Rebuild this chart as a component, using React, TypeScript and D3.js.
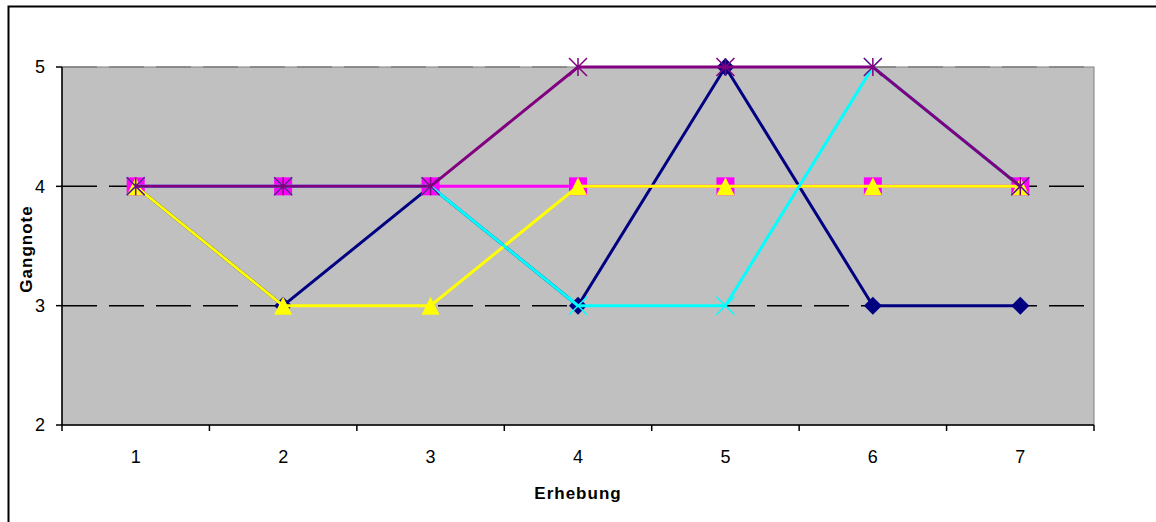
import React from "react";
import * as d3 from "d3";

const categories = ["1", "2", "3", "4", "5", "6", "7"];
const yTicks = [2, 3, 4, 5];
const navyValues = [4, 3, 4, 3, 5, 3, 3];
const magentaValues = [4, 4, 4, 4, 4, 4, 4];
const yellowValues = [4, 3, 3, 4, 4, 4, 4];
const cyanValues = [4, 4, 4, 3, 3, 5, 4];
const purpleValues = [4, 4, 4, 5, 5, 5, 4];

const seriesList = [
  { name: "s1", values: navyValues, color: "#000080", marker: "diamond" },
  { name: "s2", values: magentaValues, color: "#FF00FF", marker: "square" },
  { name: "s3", values: yellowValues, color: "#FFFF00", marker: "triangle" },
  { name: "s4", values: cyanValues, color: "#00FFFF", marker: "x" },
  { name: "s5", values: purpleValues, color: "#800080", marker: "star" },
];

const W = 1156;
const H = 522;
const plot = { left: 62, right: 1094, top: 67, bottom: 425 };

export default function App() {
  const x = d3.scaleBand<string>().domain(categories).range([plot.left, plot.right]).padding(0);
  const y = d3.scaleLinear().domain([2, 5]).range([plot.bottom, plot.top]);
  const cx = (i: number) => (x(categories[i]) as number) + x.bandwidth() / 2;
  const line = d3
    .line<number>()
    .x((_, i) => cx(i))
    .y((d) => y(d));

  const marker = (type: string, px: number, py: number, color: string, key: string) => {
    const s = 9;
    if (type === "diamond")
      return (
        <path key={key} d={`M${px},${py - s}L${px + s},${py}L${px},${py + s}L${px - s},${py}Z`} fill={color} />
      );
    if (type === "square")
      return <rect key={key} x={px - s} y={py - s} width={2 * s} height={2 * s} fill={color} />;
    if (type === "triangle")
      return (
        <path key={key} d={`M${px},${py - s}L${px + s},${py + s}L${px - s},${py + s}Z`} fill={color} />
      );
    if (type === "x")
      return (
        <path
          key={key}
          d={`M${px - s},${py - s}L${px + s},${py + s}M${px - s},${py + s}L${px + s},${py - s}`}
          stroke={color}
          strokeWidth={1.5}
          fill="none"
        />
      );
    return (
      <path
        key={key}
        d={`M${px - s},${py - s}L${px + s},${py + s}M${px - s},${py + s}L${px + s},${py - s}M${px},${py - s}L${px},${py + s}`}
        stroke={color}
        strokeWidth={1.5}
        fill="none"
      />
    );
  };

  const boundaries = d3.range(categories.length + 1).map((i) => plot.left + i * x.bandwidth());

  return (
    <svg
      width={W}
      height={H}
      style={{ position: "absolute", left: 0, top: 0, background: "#fff" }}
      fontFamily="'Liberation Sans', Arial, sans-serif"
    >
      <rect x={8.5} y={6.5} width={W + 10} height={H + 10} fill="#fff" stroke="#000" strokeWidth={2} />
      <rect
        x={plot.left}
        y={plot.top}
        width={plot.right - plot.left}
        height={plot.bottom - plot.top}
        fill="#C0C0C0"
        stroke="#808080"
        strokeWidth={1}
      />
      {yTicks
        .filter((t) => t > 2)
        .map((t) => (
          <line
            key={`g${t}`}
            x1={plot.left}
            x2={plot.right}
            y1={y(t)}
            y2={y(t)}
            stroke={t === 5 ? "#808080" : "#000"}
            strokeWidth={1.5}
            strokeDasharray="35 12"
          />
        ))}
      <line x1={plot.left} x2={plot.left} y1={plot.top} y2={plot.bottom} stroke="#000" strokeWidth={1.5} />
      <line x1={plot.left} x2={plot.right} y1={plot.bottom} y2={plot.bottom} stroke="#000" strokeWidth={1.5} />
      {yTicks.map((t) => (
        <g key={`yt${t}`}>
          <line x1={plot.left - 6} x2={plot.left} y1={y(t)} y2={y(t)} stroke="#000" strokeWidth={1.5} />
          <text x={45} y={y(t)} dy="0.36em" textAnchor="end" fontSize={18}>
            {t}
          </text>
        </g>
      ))}
      {boundaries.map((b, i) => (
        <line key={`xt${i}`} x1={b} x2={b} y1={plot.bottom} y2={plot.bottom + 6} stroke="#000" strokeWidth={1.5} />
      ))}
      {categories.map((c, i) => (
        <text key={`xl${c}`} x={cx(i)} y={463} textAnchor="middle" fontSize={18}>
          {c}
        </text>
      ))}
      <text
        x={(plot.left + plot.right) / 2}
        y={499}
        textAnchor="middle"
        fontSize={17}
        fontWeight="bold"
        letterSpacing={1}
      >
        Erhebung
      </text>
      <text
        transform={`translate(32,${(plot.top + plot.bottom) / 2 + 3}) rotate(-90)`}
        textAnchor="middle"
        fontSize={17}
        fontWeight="bold"
        letterSpacing={1}
      >
        Gangnote
      </text>
      {seriesList.map((s) => (
        <g key={s.name}>
          <path d={line(s.values) as string} fill="none" stroke={s.color} strokeWidth={3} />
          {s.values.map((v, i) => marker(s.marker, cx(i), y(v), s.color, `${s.name}-${i}`))}
        </g>
      ))}
    </svg>
  );
}
